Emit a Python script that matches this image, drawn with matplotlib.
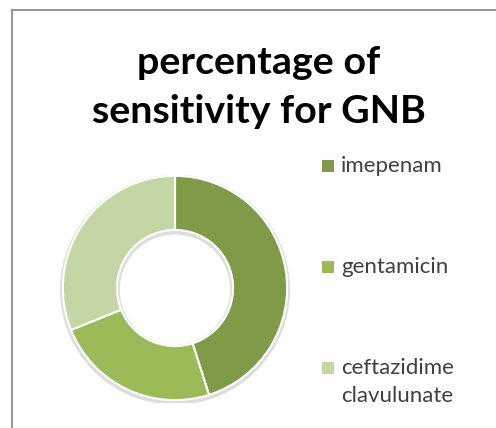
import matplotlib
matplotlib.use("Agg")
import matplotlib.pyplot as plt
from matplotlib.patches import Rectangle, Wedge
from matplotlib.lines import Line2D

title = "percentage of\nsensitivity for GNB"
categories = ["imepenam", "gentamicin", "ceftazidime\nclavulunate"]
values = [45.1, 23.8, 31.1]
colors = ["#7F9B48", "#9BBB59", "#C4D6A4"]

W, H = 496, 428
fig = plt.figure(figsize=(W / 100, H / 100), dpi=100)
fig.patch.set_facecolor("white")

def fx(px):
    return px / W

def fy(py):
    return 1 - py / H

# frame (left and top edges visible)
fig.add_artist(Line2D([fx(12), fx(12)], [fy(10), fy(430)], color="#8C8C8C", lw=1.3))
fig.add_artist(Line2D([fx(12), fx(500)], [fy(10), fy(10)], color="#8C8C8C", lw=1.3))

# donut
cx, cy, R = 175, 288, 115
ax = fig.add_axes([fx(cx - R), fy(cy + R), 2 * R / W, 2 * R / H])
# subtle shadow ring
ax.add_patch(Wedge((0.0, -0.015), 1.0, 0, 360, width=0.52,
                   facecolor="#DDDDDD", edgecolor="none", zorder=0))
ax.pie(values, colors=colors, startangle=90, counterclock=False,
       radius=0.975,
       wedgeprops=dict(width=0.47, edgecolor="white", linewidth=1.5))
ax.set_xlim(-1.0, 1.0)
ax.set_ylim(-1.0, 1.0)
ax.set_aspect("equal")
ax.axis("off")

# title
fig.text(fx(259), fy(87), title, ha="center", va="center",
         fontsize=28.4, fontweight="bold", family="Lato", color="black",
         linespacing=1.5)

# legend entries (manual)
sq_y = [166, 267, 368]
for cat, col, y in zip(categories, colors, sq_y):
    fig.add_artist(Rectangle((fx(322), fy(y + 6)), 12 / W, 12 / H,
                             facecolor=col, edgecolor="none",
                             transform=fig.transFigure))
    lines = cat.split("\n")
    for i, ln in enumerate(lines):
        fig.text(fx(341), fy(y + i * 28), ln, ha="left", va="center",
                 fontsize=16, family="Lato", color="#404040")

fig.savefig("out.png", dpi=100)
